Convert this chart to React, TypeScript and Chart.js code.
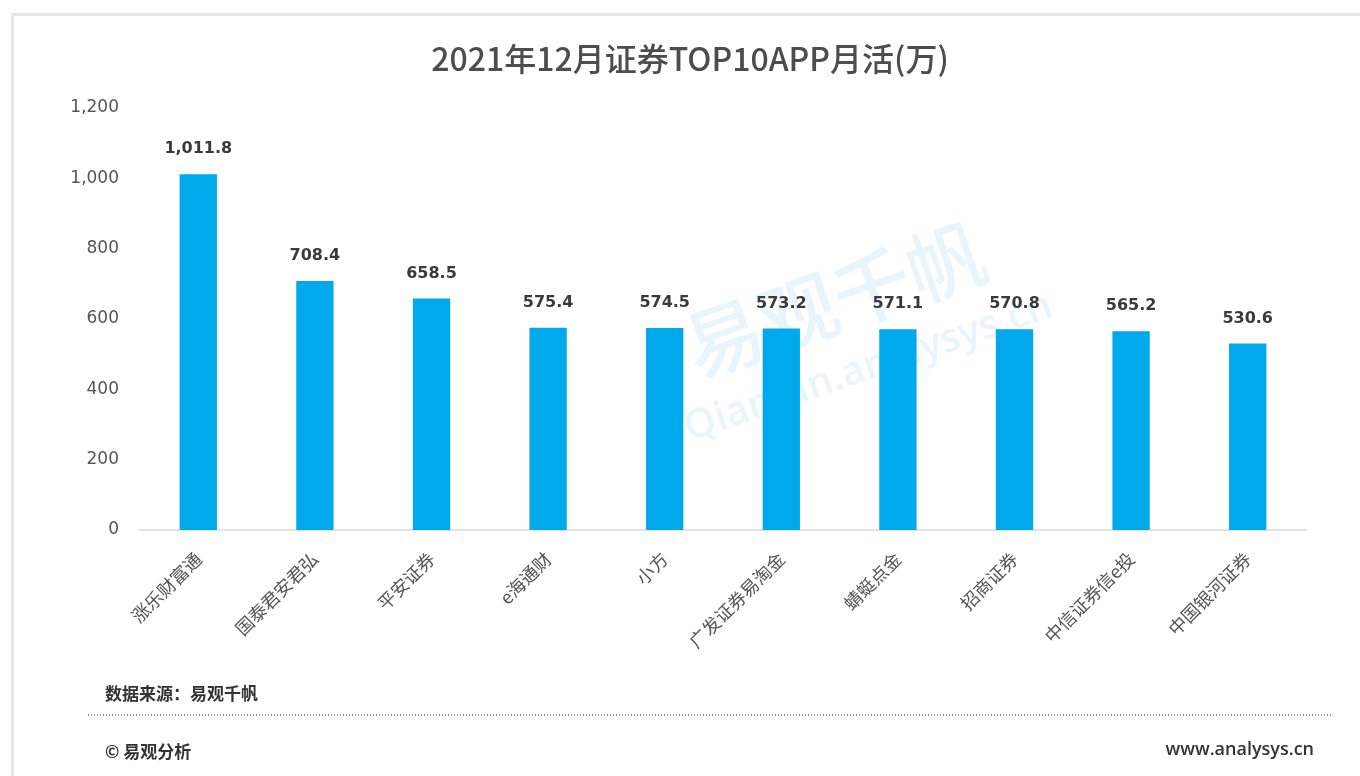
import React, { useEffect, useRef } from "react";
import { Chart, registerables } from "chart.js";

Chart.register(...registerables);

const TITLE = "2021年12月证券TOP10APP月活(万)";
const CATEGORIES = [
  "涨乐财富通",
  "国泰君安君弘",
  "平安证券",
  "e海通财",
  "小方",
  "广发证券易淘金",
  "蜻蜓点金",
  "招商证券",
  "中信证券信e投",
  "中国银河证券",
];
const MAU = [1011.8, 708.4, 658.5, 575.4, 574.5, 573.2, 571.1, 570.8, 565.2, 530.6];
const Y_MIN = 0;
const Y_MAX = 1200;
const Y_STEP = 200;
const SOURCE_TEXT = "数据来源：易观千帆";
const COPYRIGHT_TEXT = "© 易观分析";
const SITE_TEXT = "www.analysys.cn";
const WATERMARK_CN = "易观千帆";
const WATERMARK_EN = "Qianfan.analysys.cn";

const FONT = "'Open Sans', 'Noto Sans CJK SC', sans-serif";
const NUM = "'DejaVu Sans', 'Open Sans', sans-serif";
const CJK = "'Noto Sans CJK SC', 'Open Sans', sans-serif";
const BAR_COLOR = "#00A9EC";

const fmt = (v: number) =>
  v.toLocaleString("en-US", { minimumFractionDigits: 1, maximumFractionDigits: 1 });

const decorPlugin = {
  id: "decor",
  beforeDraw(chart: any) {
    const { ctx } = chart;
    ctx.save();
    ctx.fillStyle = "#ffffff";
    ctx.fillRect(0, 0, chart.width, chart.height);
    // card border (top & left)
    ctx.fillStyle = "#e6e6e6";
    ctx.fillRect(11, 13, chart.width - 11, 3);
    ctx.fillRect(11, 13, 3, chart.height - 13);
    // watermark
    ctx.globalAlpha = 0.1;
    ctx.fillStyle = "#2aa0e0";
    ctx.translate(835, 300);
    ctx.rotate(-0.33);
    ctx.textAlign = "center";
    ctx.textBaseline = "middle";
    ctx.font = `500 78px ${CJK}`;
    ctx.fillText(WATERMARK_CN, 0, 0);
    ctx.font = `600 40px ${FONT}`;
    ctx.fillText(WATERMARK_EN, 10, 75);
    ctx.restore();
  },
  afterDraw(chart: any) {
    const { ctx } = chart;
    ctx.save();
    // title
    ctx.fillStyle = "#4d4d4d";
    ctx.textAlign = "center";
    ctx.textBaseline = "middle";
    ctx.font = `500 32px ${CJK}`;
    ctx.fillText(TITLE, 690, 59);
    // footer
    ctx.fillStyle = "#333333";
    ctx.textAlign = "left";
    ctx.font = `bold 17px ${CJK}`;
    ctx.fillText(SOURCE_TEXT, 105, 694);
    ctx.fillText(COPYRIGHT_TEXT, 105, 752);
    ctx.textAlign = "right";
    ctx.font = `600 18px ${FONT}`;
    ctx.fillText(SITE_TEXT, 1314, 750);
    // dotted line
    ctx.strokeStyle = "#9a9a9a";
    ctx.lineWidth = 2;
    ctx.setLineDash([1, 2]);
    ctx.beginPath();
    ctx.moveTo(88, 715);
    ctx.lineTo(1332, 715);
    ctx.stroke();
    ctx.restore();
  },
};

const valueLabelPlugin = {
  id: "valueLabels",
  afterDatasetsDraw(chart: any) {
    const { ctx } = chart;
    const meta = chart.getDatasetMeta(0);
    ctx.save();
    ctx.fillStyle = "#3a3a3a";
    ctx.textAlign = "center";
    ctx.textBaseline = "middle";
    ctx.font = `bold 16px ${NUM}`;
    meta.data.forEach((bar: any, i: number) => {
      ctx.fillText(fmt(MAU[i]), bar.x, bar.y - 25);
    });
    ctx.restore();
  },
};

export default function App() {
  const ref = useRef<HTMLCanvasElement | null>(null);
  useEffect(() => {
    if (!ref.current) return;
    const chart = new Chart(ref.current, {
      type: "bar",
      data: {
        labels: CATEGORIES,
        datasets: [
          {
            data: MAU,
            backgroundColor: BAR_COLOR,
            categoryPercentage: 1,
            barPercentage: 0.32,
          },
        ],
      },
      options: {
        animation: false,
        responsive: false,
        maintainAspectRatio: false,
        layout: { padding: { top: 108, right: 54, bottom: 0, left: 0 } },
        plugins: {
          legend: { display: false },
          title: { display: false },
          tooltip: { enabled: false },
        },
        scales: {
          x: {
            grid: { display: false, drawTicks: false },
            border: { display: true, color: "#e3e3e3", width: 2 },
            ticks: {
              color: "#555555",
              font: { family: CJK, size: 18 },
              maxRotation: 45,
              minRotation: 45,
              padding: 18,
              autoSkip: false,
            },
            afterFit: (s: any) => {
              s.height = 776 - 530;
            },
          },
          y: {
            min: Y_MIN,
            max: Y_MAX,
            grid: { display: false, drawTicks: false },
            border: { display: false },
            ticks: {
              stepSize: Y_STEP,
              color: "#555555",
              font: { family: NUM, size: 17 },
              padding: 21,
              callback: (v: any) => Number(v).toLocaleString("en-US"),
            },
            afterFit: (s: any) => {
              s.width = 140;
            },
          },
        },
      },
      plugins: [decorPlugin, valueLabelPlugin],
    });
    return () => chart.destroy();
  }, []);
  return (
    <div style={{ position: "fixed", left: 0, top: 0, width: 1360, height: 776, background: "#fff" }}>
      <canvas ref={ref} width={1360} height={776} style={{ display: "block", width: 1360, height: 776 }} />
    </div>
  );
}
